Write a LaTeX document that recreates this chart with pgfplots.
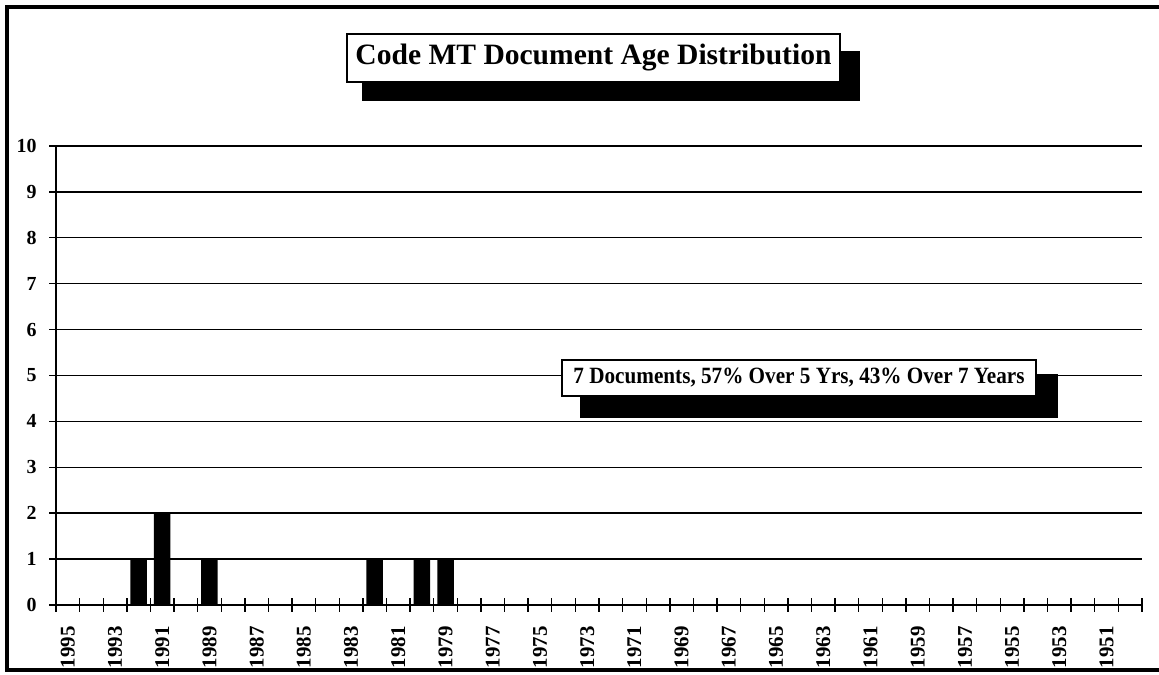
\documentclass[border=0pt]{standalone}
\usepackage{pgfplots}
\pgfplotsset{compat=1.18}
\usepackage{graphicx}
\usepackage{fontspec}
\setmainfont{Liberation Serif}
\newcommand{\tlfont}{\bfseries\fontsize{20}{20}\selectfont}
\newcommand{\xlfont}{\bfseries\fontsize{21}{21}\selectfont}
\begin{document}
\begin{tikzpicture}[x=1bp,y=1bp]
\useasboundingbox (0,0) rectangle (1159,675);
\fill[white] (0,0) rectangle (1159,675);
\draw[line width=3.5bp] (1159,668) -- (7,668) -- (7,5) -- (1159,5);
\begin{axis}[
  at={(56bp,70bp)}, anchor=south west,
  scale only axis, width=1086bp, height=459bp,
  xmin=-0.5, xmax=45.5, ymin=0, ymax=10,
  axis lines*=left, axis line style={-, line width=1.5bp},
  ytick={0,...,10},
  xtick={-0.5,0.5,...,45.5}, xticklabels={},
  extra x ticks={0,2,...,44},
  extra x tick labels={1995,1993,1991,1989,1987,1985,1983,1981,1979,1977,1975,1973,1971,1969,1967,1965,1963,1961,1959,1957,1955,1953,1951},
  extra x tick style={major tick length=0pt, grid=none},
  xticklabel style={font=\xlfont, rotate=90, anchor=east},
  xticklabel shift=18bp,
  major tick length=14bp, tick align=center,
  tick style={black, line width=1.4bp},
  ymajorgrids, grid style={black, line width=1.4bp},
  yticklabel style={font=\tlfont, xshift=-9bp},
  /pgf/number format/assume math mode=true,
]
\addplot[ybar, bar width=16.5bp, fill=black, draw=none, bar shift=0pt] coordinates {(3,1) (4,2) (6,1) (13,1) (15,1) (16,1)};
\end{axis}
% title
\fill[black] (362,624) rectangle (860,574);
\draw[line width=1.3bp, fill=white] (347,641) rectangle (840,593);
\node[inner sep=0pt] at (593.5,617) {\resizebox{476bp}{20.5bp}{\bfseries Code MT Document Age Distribution}};
% annotation
\fill[black] (580,301) rectangle (1058,257);
\draw[line width=1.3bp, fill=white] (562,315) rectangle (1036,279);
\node[inner sep=0pt] at (799,297) {\resizebox{451bp}{15.5bp}{\bfseries 7 Documents, 57\% Over 5 Yrs, 43\% Over 7 Years}};
\end{tikzpicture}
\end{document}
